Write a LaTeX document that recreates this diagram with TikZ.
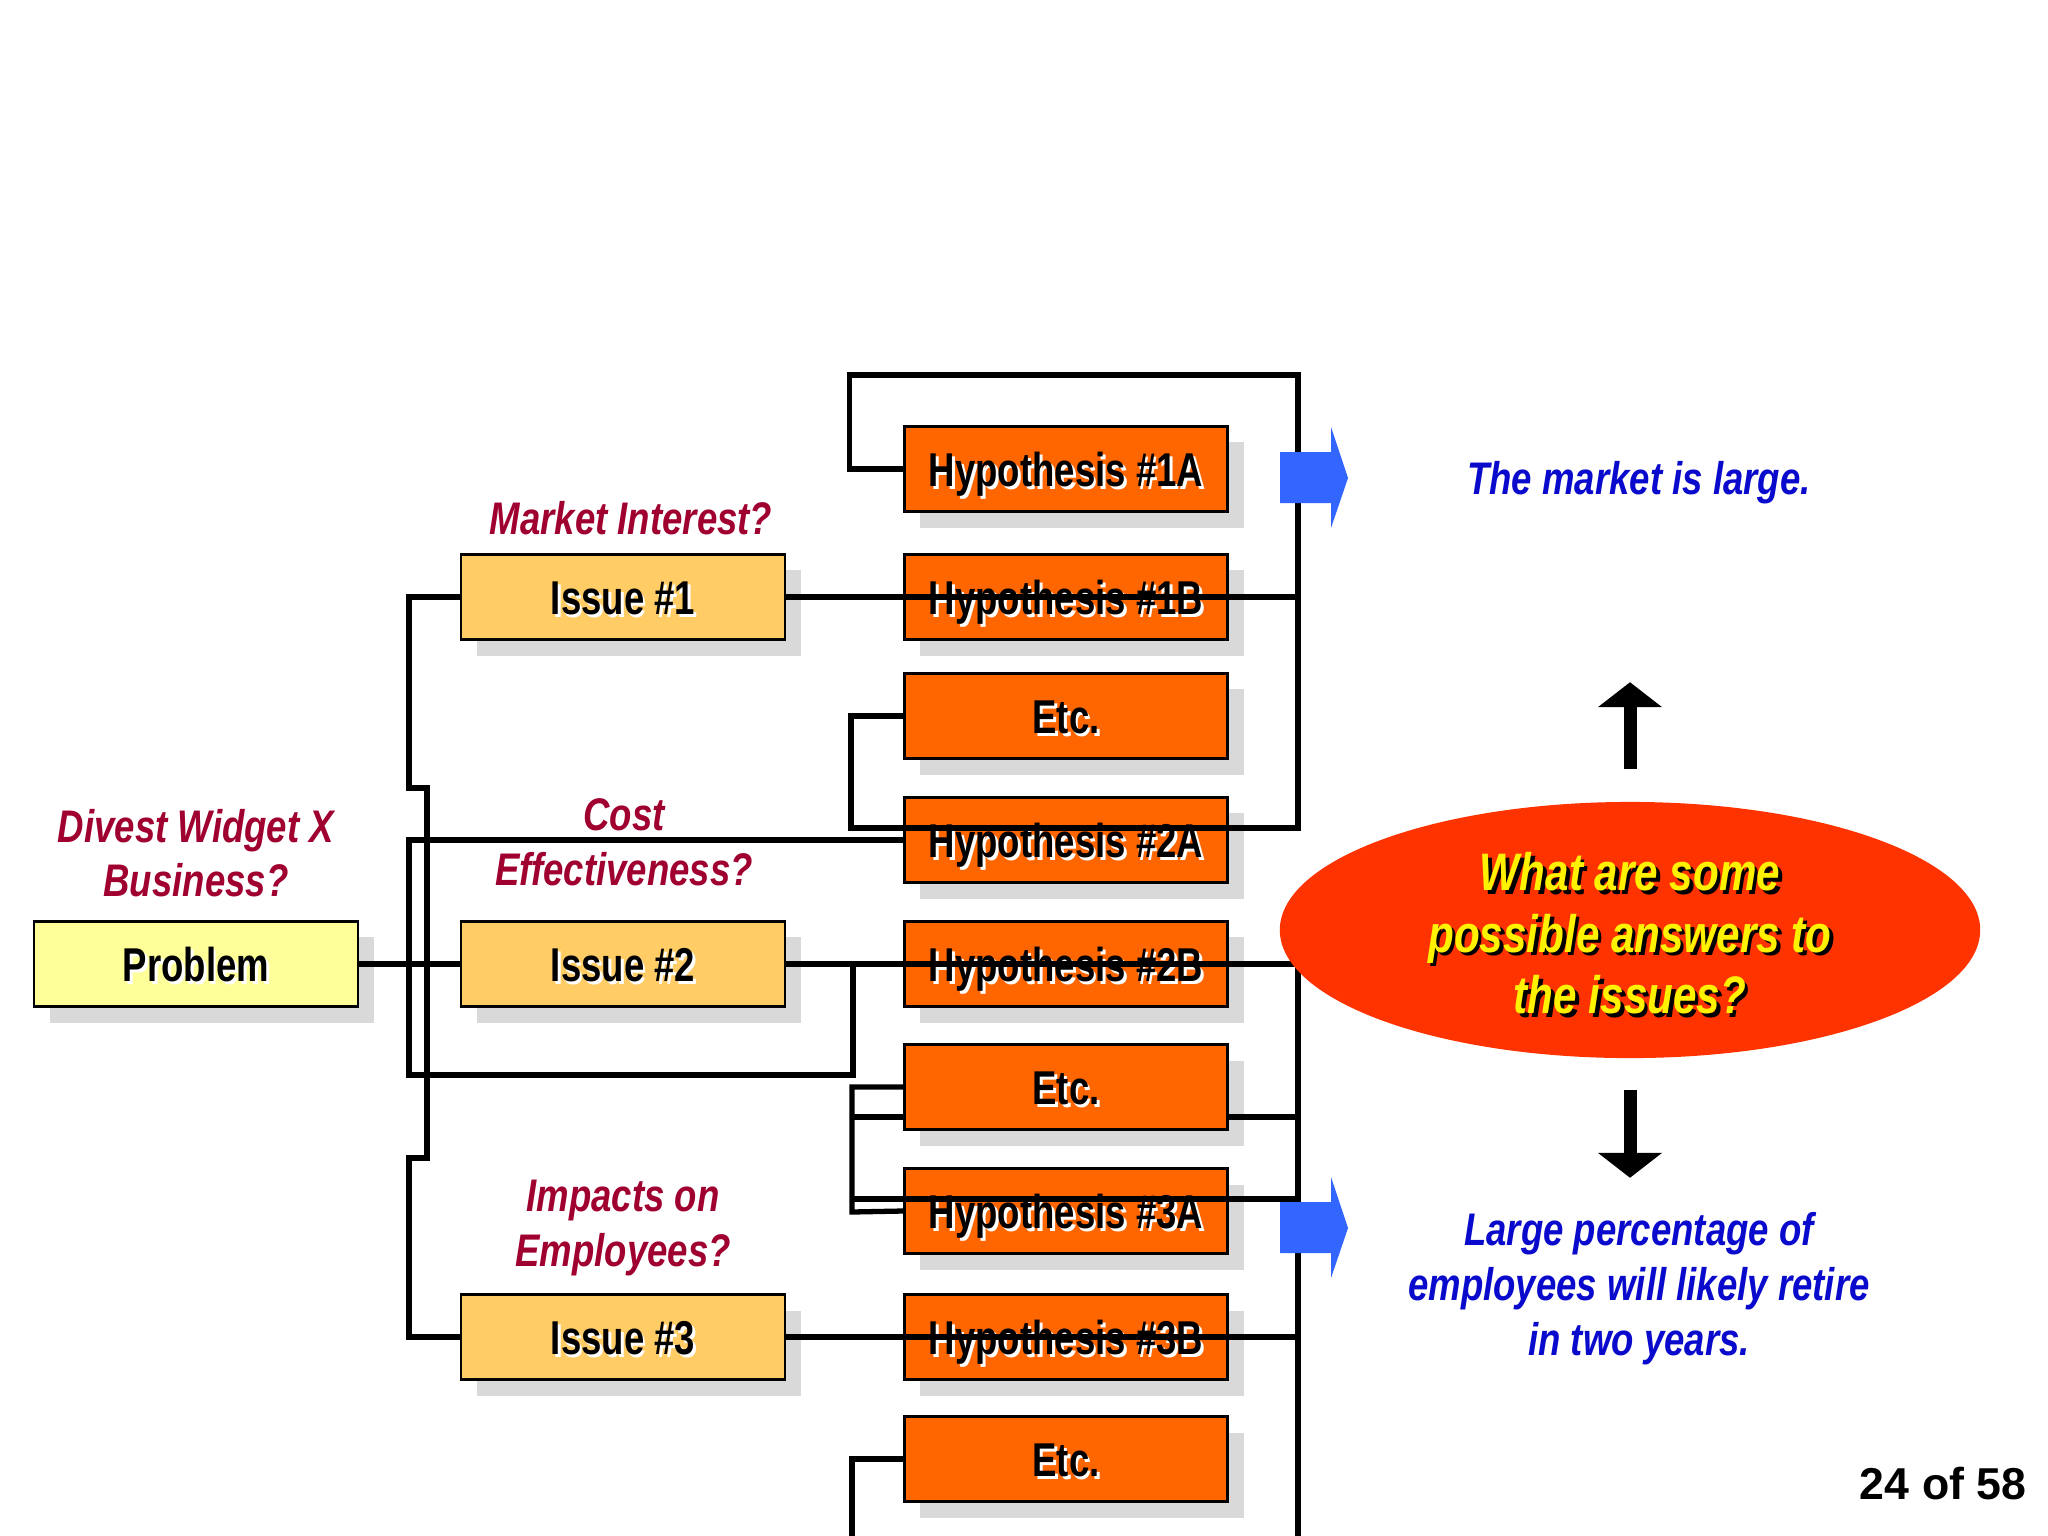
\documentclass[tikz,border=0pt]{standalone}
\usepackage{fontspec}
\setmainfont{Liberation Sans}
\newfontfamily\narrowsf{Liberation Sans}[FakeStretch=0.8]
\newfontfamily\boxsf{Liberation Sans}[FakeStretch=0.77]
\usepackage{xcolor}
\usepackage{tikz}
\usetikzlibrary{arrows.meta,shapes,shadows,calc}
\definecolor{probyellow}{HTML}{FFFF99}
\definecolor{issueorange}{HTML}{FFCC66}
\definecolor{hyporange}{HTML}{FF6600}
\definecolor{ovalred}{HTML}{FF3300}
\definecolor{arrowblue}{HTML}{3366FF}
\definecolor{qred}{HTML}{A00030}
\definecolor{ansblue}{HTML}{0A0ACC}
\definecolor{shadowgray}{HTML}{D9D9D9}
\newcommand{\lighttxt}[1]{\rlap{\hspace{0.8pt}\raisebox{-0.8pt}{\color{white}#1}}#1}
\newcommand{\darktxt}[1]{\rlap{\hspace{1pt}\raisebox{-1pt}{\color{black}#1}}#1}

\begin{document}
\begin{tikzpicture}[x=0.01cm,y=-0.01cm,>=stealth,
box/.style={draw,line width=0.7pt,minimum width=3.24cm,minimum height=0.85cm,inner sep=0pt,
  text height=1em,text depth=0pt,
  font=\boxsf\bfseries\fontsize{13.5}{15}\selectfont,
  drop shadow={shadow xshift=0.16cm,shadow yshift=-0.16cm,fill=shadowgray,opacity=1}},
probbox/.style={box,fill=probyellow},
issuebox/.style={box,fill=issueorange},
hypbox/.style={box,fill=hyporange,minimum width=3.23cm},
link/.style={line width=1.5pt},
question/.style={text=qred,align=center,font=\narrowsf\bfseries\itshape\fontsize{13}{15.5}\selectfont},
answer/.style={text=ansblue,align=center,font=\narrowsf\bfseries\itshape\fontsize{13}{15.6}\selectfont},
bigarrow/.style={line width=0.13cm,-{Triangle[length=0.25cm,width=0.63cm]}}]
\useasboundingbox (0,0) rectangle (2048,1536);
\fill[white] (0,0) rectangle (2048,1536);

\node[probbox] (prob) at (196,964) {\lighttxt{Problem}};
\node[issuebox] (iss1) at (623,597) {\lighttxt{Issue \#1}};
\node[issuebox] (iss2) at (623,964) {\lighttxt{Issue \#2}};
\node[issuebox] (iss3) at (623,1337) {\lighttxt{Issue \#3}};
\node[hypbox] (h1a) at (1066,469) {\lighttxt{Hypothesis \#1A}};
\node[hypbox] (h1b) at (1066,597) {\lighttxt{Hypothesis \#1B}};
\node[hypbox] (e1) at (1066,716) {\lighttxt{Etc.}};
\node[hypbox] (h2a) at (1066,840) {\lighttxt{Hypothesis \#2A}};
\node[hypbox] (h2b) at (1066,964) {\lighttxt{Hypothesis \#2B}};
\node[hypbox] (e2) at (1066,1087) {\lighttxt{Etc.}};
\node[hypbox] (h3a) at (1066,1211) {\lighttxt{Hypothesis \#3A}};
\node[hypbox] (h3b) at (1066,1337) {\lighttxt{Hypothesis \#3B}};
\node[hypbox] (e3) at (1066,1459) {\lighttxt{Etc.}};

\draw[link] (prob.east) -- (iss2.west);
\draw[link] (iss1.west) -| (409,788) -| (427,1158) -| (409,1337) -- (iss3.west);
\draw[link] (iss2.east) -| (1298,1536);
\draw[link] (853,964) -- (853,1075) -| (409,840) -- (h2a.west);
\draw[link] (iss1.east) -- (1298,597);
\draw[link] (h1a.west) -- ++(-54,0) |- (1298,375) -- (1298,828) -| (851,716) -- (e1.west);
\draw[link] (e2.west) -| (852,1212) -- (h3a.west);
\draw[link] (852,1117) -- ($(e2.west)+(0,30)$);
\draw[link] ($(e2.east)+(0,30)$) -- (1298,1117);
\draw[link] (852,1199) -- (1298,1199);
\draw[link] (iss3.east) -- (1298,1337);
\draw[link] (e3.west) -| (852,1536);

\node[ellipse,fill=ovalred,minimum width=7cm,minimum height=2.56cm,inner sep=0pt] (ans) at (1630,930) {};
\node[align=center,text=yellow,font=\narrowsf\bfseries\itshape\fontsize{15}{17.5}\selectfont] (anstxt) at (1630,935)
  {\darktxt{What are some}\\\darktxt{possible answers to}\\\darktxt{the issues?}};

\foreach \y in {478,1228}
  \fill[arrowblue] (1280,\y-26) -- (1331,\y-26) -- (1331,\y-51) -- (1348,\y) -- (1331,\y+50) -- (1331,\y+25) -- (1280,\y+25) -- cycle;
\draw[bigarrow] ($(ans.north)+(0,-32)$) -- ($(ans.north)+(0,-119)$);
\draw[bigarrow] ($(ans.south)+(0,31)$) -- ($(ans.south)+(0,119)$);

\node[question] (qprob) at (196,853) {Divest Widget X\\Business?};
\node[question] (qiss1) at (631,518) {Market Interest?};
\node[question] (qiss2) at (624,842) {Cost\\Effectiveness?};
\node[question] (qiss3) at (623,1228) {Impacts on\\Employees?};
\node[answer] (ans1) at (1639,483) {The market is large.};
\node[answer] (ans3) at (1639,1289) {Large percentage of\\employees will likely retire\\in two years.};
\node[anchor=east,inner sep=0pt,font=\bfseries\fontsize{12.7}{15}\selectfont] (page) at (2027,1484) {24 of 58};
\end{tikzpicture}
\end{document}
